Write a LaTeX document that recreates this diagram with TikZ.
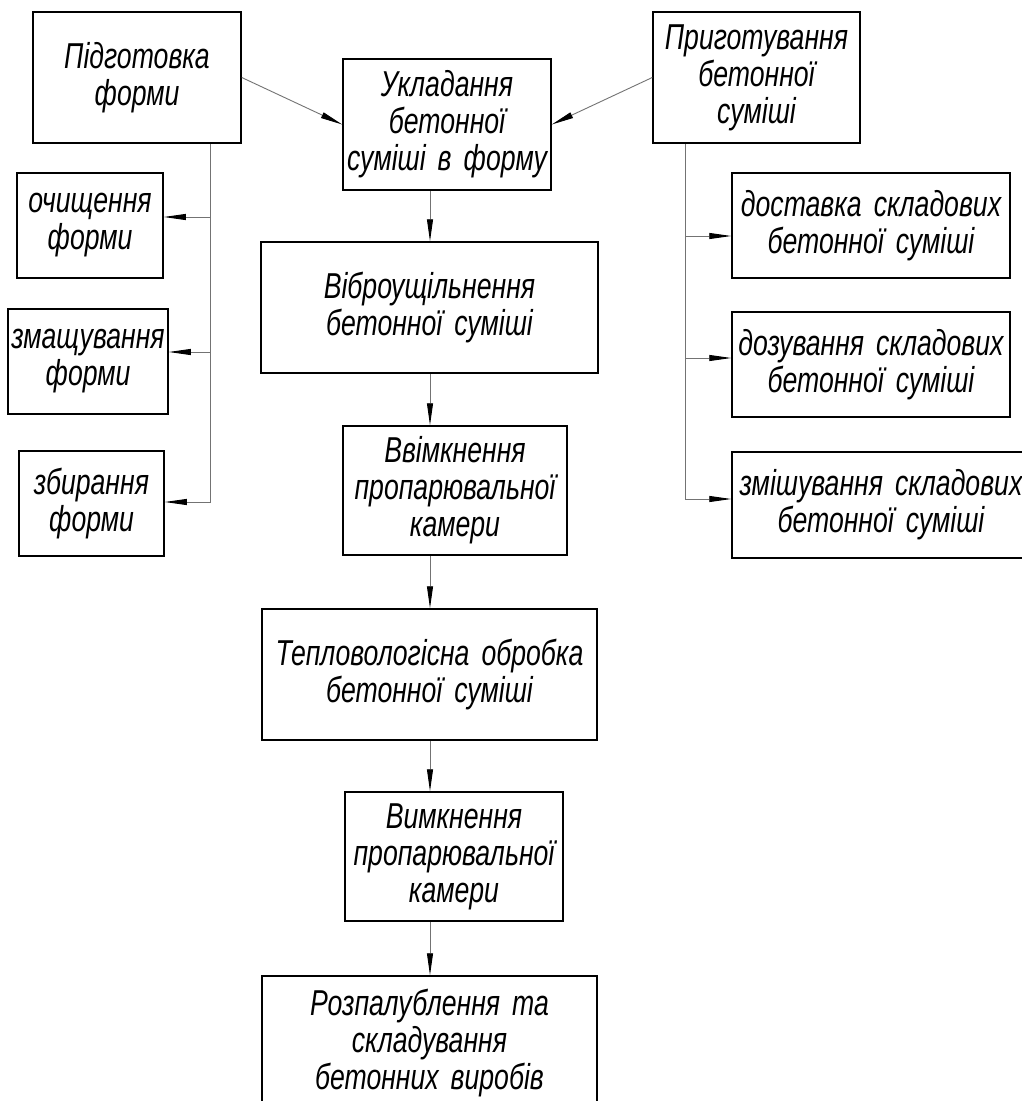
\documentclass[tikz,border=0pt]{standalone}
\usepackage{fontspec}
\newfontfamily\gost[FakeStretch=0.74]{Liberation Sans}
\usetikzlibrary{arrows.meta}
\begin{document}
\begin{tikzpicture}[x=1pt,y=-1pt,
  box/.style={draw=black, line width=1.5pt, inner xsep=0pt, inner ysep=0pt,
    align=center, font=\gost\itshape\fontsize{36}{37}\selectfont},
  conn/.style={draw=black!55, line width=0.9pt,
    -{Triangle[length=22pt,width=6pt,color=black]}},
  ]
\useasboundingbox (0,0) rectangle (1022,1101);
\fill[white] (0,0) rectangle (1022,1101);
\clip (0,0) rectangle (1022,1101);

% top row
\node[box, text width=208pt, minimum height=131pt] (pidg) at (137,77.5) {Підготовка\\форми};
\node[box, text width=208pt, minimum height=131pt] (ukl) at (447,124.5) {Укладання\\бетонної\\суміші в форму};
\node[box, text width=207pt, minimum height=131pt] (prig) at (756.5,77.5) {Приготування\\бетонної\\суміші};

% left column
\node[box, text width=146pt, minimum height=105pt] (och) at (90,225.5) {очищення\\форми};
\node[box, text width=160pt, minimum height=105pt] (zmash) at (88,361.5) {змащування\\форми};
\node[box, text width=145pt, minimum height=105pt] (zbyr) at (91.5,503.5) {збирання\\форми};

% right column
\node[box, text width=278pt, minimum height=105pt] (dost) at (871,225.5) {доставка складових\\бетонної суміші};
\node[box, text width=278pt, minimum height=105pt] (doz) at (871,364.5) {дозування складових\\бетонної суміші};
\node[box, text width=298pt, minimum height=106pt] (zmish) at (881,505) {змішування складових\\бетонної суміші};

% central column
\node[box, text width=337pt, minimum height=131pt] (vib) at (429.5,307.5) {Віброущільнення\\бетонної суміші};
\node[box, text width=224pt, minimum height=129pt] (vvim) at (455,490.5) {Ввімкнення\\пропарювальної\\камери};
\node[box, text width=335pt, minimum height=131pt] (teplo) at (429.5,674.5) {Тепловологісна обробка\\бетонної суміші};
\node[box, text width=218pt, minimum height=129pt] (vymk) at (454,856.5) {Вимкнення\\пропарювальної\\камери};
\node[box, text width=335pt, minimum height=134pt] (rozp) at (429.5,1043) {Розпалублення та\\складування\\бетонних виробів};

% helper coordinates
\coordinate (lt) at (210,0);
\coordinate (rt) at (685,0);
\coordinate (sp) at (430,0);
\coordinate (ocha) at ([yshift=8.5pt]och.east);
\coordinate (zmasha) at ([yshift=9.5pt]zmash.east);
\coordinate (zbyra) at ([yshift=1.5pt]zbyr.east);
\coordinate (dosta) at ([yshift=-10.5pt]dost.west);
\coordinate (doza) at ([yshift=6.5pt]doz.west);
\coordinate (zmisha) at ([yshift=6pt]zmish.west);

% connectors
\draw[conn] (pidg.east) -- (ukl.west);
\draw[conn] (prig.west) -- (ukl.east);

\draw[conn] (pidg.south -| lt) |- (zbyra);
\draw[conn] (ocha -| lt) -- (ocha);
\draw[conn] (zmasha -| lt) -- (zmasha);

\draw[conn] (prig.south -| rt) |- (zmisha);
\draw[conn] (dosta -| rt) -- (dosta);
\draw[conn] (doza -| rt) -- (doza);

\draw[conn] (ukl.south -| sp) -- (vib.north -| sp);
\draw[conn] (vib.south -| sp) -- (vvim.north -| sp);
\draw[conn] (vvim.south -| sp) -- (teplo.north -| sp);
\draw[conn] (teplo.south -| sp) -- (vymk.north -| sp);
\draw[conn] (vymk.south -| sp) -- (rozp.north -| sp);
\end{tikzpicture}
\end{document}
